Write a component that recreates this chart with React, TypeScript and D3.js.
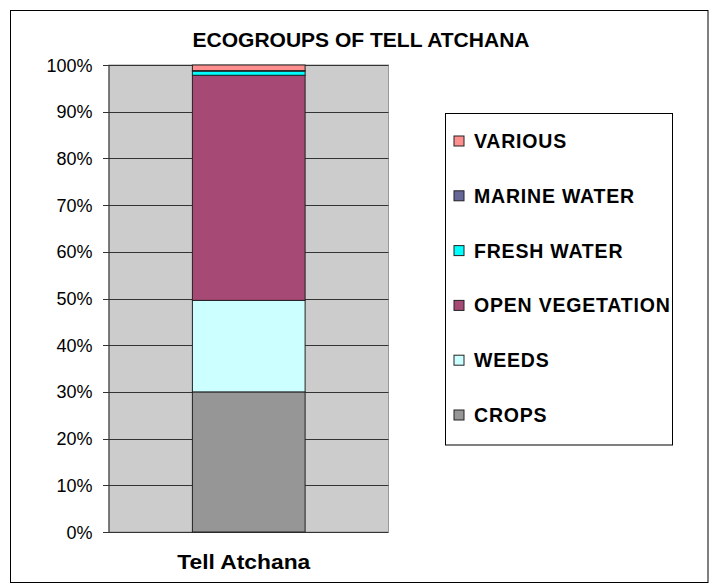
import React from "react";
import * as d3 from "d3";

const categories = ["Tell Atchana"];
const seriesNames = ["CROPS", "WEEDS", "OPEN VEGETATION", "FRESH WATER", "MARINE WATER", "VARIOUS"];
const seriesValues = [30.0, 19.6, 48.2, 0.9, 0.1, 1.2];
const seriesColors = ["#969696", "#CCFFFF", "#A64A75", "#00FFFF", "#666699", "#FF8F8F"];
const tickValues = [0, 0.1, 0.2, 0.3, 0.4, 0.5, 0.6, 0.7, 0.8, 0.9, 1.0];

const W = 711, H = 584;
const plot = { left: 109, right: 388.5, top: 65, bottom: 532 };

export default function App() {
  const total = d3.sum(seriesValues);
  const y = d3.scaleLinear().domain([0, 1]).range([plot.bottom, plot.top]);
  const x = d3.scaleBand().domain(categories).range([plot.left, plot.right]).paddingInner(0).paddingOuter(0.74);
  const stackData = [Object.fromEntries(seriesNames.map((n, i) => [n, seriesValues[i] / total]))];
  const stacked = d3.stack<any>().keys(seriesNames)(stackData as any);
  const fmt = d3.format(".0%");
  const font = "'Liberation Sans', Arial, sans-serif";
  const legendTop = 141, legendStep = 54.8;
  const legendOrder = [...seriesNames].reverse();

  return (
    <svg width={W} height={H} style={{ position: "absolute", left: 0, top: 0 }} fontFamily={font}>
      <rect x={0} y={0} width={W} height={H} fill="#fff" />
      <rect x={10.5} y={10.5} width={697.5} height={572} fill="#fff" stroke="#000" strokeWidth={1} />
      <text x={361} y={47} textAnchor="middle" fontSize={20} fontWeight="bold" textLength={337} lengthAdjust="spacingAndGlyphs">
        ECOGROUPS OF TELL ATCHANA
      </text>
      <rect x={plot.left} y={plot.top} width={plot.right - plot.left} height={plot.bottom - plot.top} fill="#CCCCCC" stroke="#999" strokeWidth={1} />
      {tickValues.map((t) => (
        <g key={t}>
          <line x1={plot.left - 6} x2={plot.right} y1={Math.round(y(t)) + 0.5} y2={Math.round(y(t)) + 0.5} stroke="#333" strokeWidth={1} />
          <text x={92.5} y={y(t) + 6.5} textAnchor="end" fontSize={18} fill="#000">{fmt(t)}</text>
        </g>
      ))}
      <line x1={plot.left} x2={plot.left} y1={plot.top} y2={plot.bottom} stroke="#333" strokeWidth={1} />
      {stacked.map((s, i) =>
        s.map((d, j) => (
          <rect key={i + "-" + j} x={x(categories[j])!} width={x.bandwidth()} y={y(d[1])} height={y(d[0]) - y(d[1])}
            fill={seriesColors[i]} stroke="#222" strokeWidth={1} />
        ))
      )}
      {categories.map((c) => (
        <text key={c} x={x(c)! + x.bandwidth() / 2 - 5} y={569} textAnchor="middle" fontSize={20.5} fontWeight="bold"
          textLength={133} lengthAdjust="spacingAndGlyphs">{c}</text>
      ))}
      <rect x={445.5} y={113.5} width={227} height={331.5} fill="#fff" stroke="#000" strokeWidth={1} />
      {legendOrder.map((n, k) => {
        const i = seriesNames.indexOf(n);
        const cy = legendTop + k * legendStep;
        return (
          <g key={n}>
            <rect x={454} y={cy - 5} width={10} height={10} fill={seriesColors[i]} stroke="#222" strokeWidth={1} />
            <text x={474} y={cy + 7} fontSize={19.5} fontWeight="bold" letterSpacing={0.8}>{n}</text>
          </g>
        );
      })}
    </svg>
  );
}
